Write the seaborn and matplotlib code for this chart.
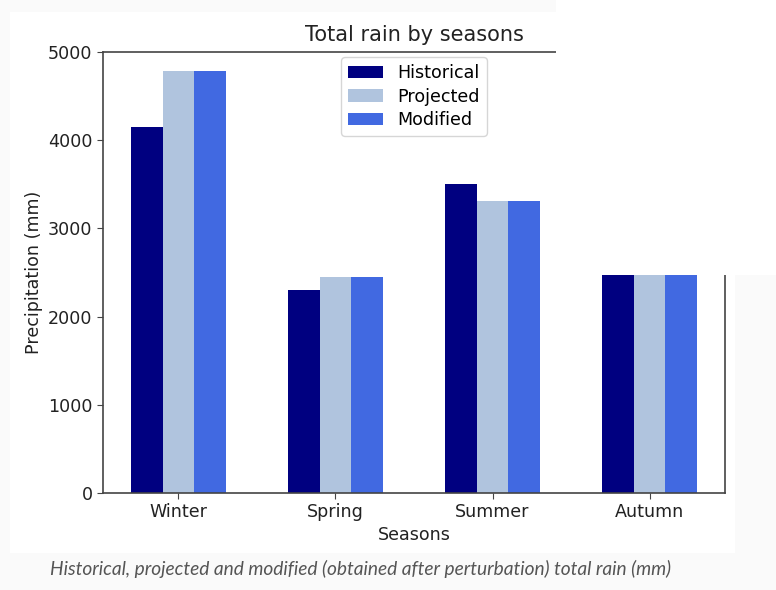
import matplotlib
matplotlib.use('Agg')
import matplotlib.pyplot as plt
import seaborn as sns
import pandas as pd
from matplotlib.patches import Rectangle

# Data
seasons = ['Winter', 'Spring', 'Summer', 'Autumn']
series_names = ['Historical', 'Projected', 'Modified']
historical = [4150, 2300, 3505, 2475]
projected = [4780, 2450, 3310, 2475]
modified = [4780, 2450, 3310, 2475]
colors = ['navy', 'lightsteelblue', 'royalblue']
caption = 'Historical, projected and modified (obtained after perturbation) total rain (mm)'

df = pd.DataFrame({'Seasons': seasons, 'Historical': historical,
                   'Projected': projected, 'Modified': modified})
df = df.melt(id_vars='Seasons', var_name='series', value_name='rain')

W, H = 776, 590
fs = 12.6
fig = plt.figure(figsize=(W / 100, H / 100), dpi=100, facecolor='#fafafa')

# white page panel behind the chart
fig.add_artist(Rectangle((10 / W, 1 - 553 / H), 725 / W, 541 / H,
                         transform=fig.transFigure, facecolor='white',
                         edgecolor='none', zorder=-1))

ax = fig.add_axes([103 / W, 1 - 493 / H, 622 / W, 441 / H])
sns.barplot(data=df, x='Seasons', y='rain', hue='series',
            hue_order=series_names, palette=colors, width=0.6,
            linewidth=0, saturation=1, ax=ax)

ax.set_xlim(-0.48, 3.48)
ax.set_ylim(0, 5000)
ax.set_yticks([0, 1000, 2000, 3000, 4000, 5000])
ax.set_xlabel('Seasons', fontsize=fs, color='#222222', labelpad=3)
ax.set_ylabel('Precipitation (mm)', fontsize=fs, color='#222222')
ax.set_title('Total rain by seasons', fontsize=15, color='#222222', pad=8)
ax.tick_params(labelsize=fs, labelcolor='#222222', color='#444444', length=4)
for s in ax.spines.values():
    s.set_color('#444444')
    s.set_linewidth(1.2)

leg = ax.legend(loc='upper center', fontsize=fs, frameon=True,
                labelspacing=0.3, borderaxespad=0.3)
leg.get_frame().set_edgecolor('#cccccc')
leg.set_title(None)

# white block covering the top-right corner, as in the screenshot
fig.add_artist(Rectangle((556 / W, 1 - 275 / H), (W - 556) / W, 275 / H,
                         transform=fig.transFigure, facecolor='white',
                         edgecolor='none', zorder=10))

fig.text(50 / W, 1 - 569 / H, caption, fontfamily='Lato', style='italic',
         fontsize=13.8, color='#555555', va='center', ha='left')

fig.savefig('out.png', dpi=100, facecolor=fig.get_facecolor())
